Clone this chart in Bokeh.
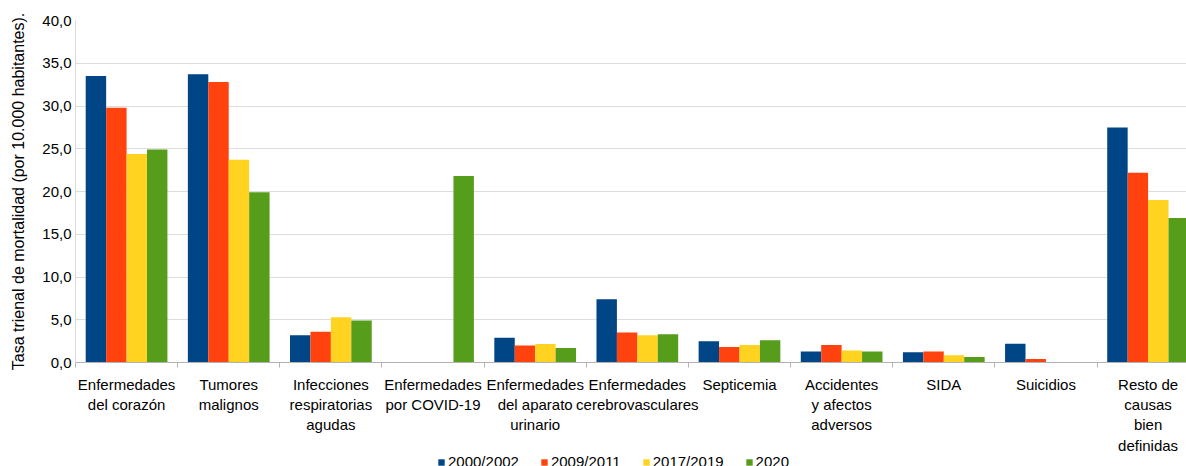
from bokeh.plotting import figure
from bokeh.layouts import column
from bokeh.models import Range1d, FixedTicker, Legend, LegendItem, ColumnDataSource
from bokeh.embed import file_html
from bokeh.resources import INLINE

categories = [
    "Enfermedades\ndel corazón",
    "Tumores\nmalignos",
    "Infecciones\nrespiratorias\nagudas",
    "Enfermedades\npor COVID-19",
    "Enfermedades\ndel aparato\nurinario",
    "Enfermedades\ncerebrovasculares",
    "Septicemia",
    "Accidentes\ny afectos\nadversos",
    "SIDA",
    "Suicidios",
    "Resto de\ncausas\nbien\ndefinidas",
]
series_names = ["2000/2002", "2009/2011", "2017/2019", "2020"]
s2000 = [33.5, 33.7, 3.2, 0.0, 2.9, 7.4, 2.5, 1.3, 1.2, 2.2, 27.5]
s2009 = [29.8, 32.8, 3.6, 0.0, 2.0, 3.5, 1.8, 2.05, 1.3, 0.4, 22.2]
s2017 = [24.4, 23.7, 5.3, 0.0, 2.15, 3.2, 2.05, 1.4, 0.85, 0.0, 19.0]
s2020 = [24.9, 19.9, 4.9, 21.8, 1.7, 3.3, 2.6, 1.3, 0.65, 0.0, 16.9]
y_ticks = [0, 5, 10, 15, 20, 25, 30, 35, 40]
y_tick_labels = ["0,0", "5,0", "10,0", "15,0", "20,0", "25,0", "30,0", "35,0", "40,0"]

colors = ["#004586", "#ff420e", "#ffd320", "#579d1c"]
FONT = "Liberation Sans"

n = len(categories)
centers = [i + 0.5 for i in range(n)]
bounds = list(range(n + 1))

p = figure(width=1186, height=456, output_backend="svg", toolbar_location=None,
           x_range=Range1d(0, 10.876), y_range=Range1d(0, 40),
           min_border_left=75, min_border_right=0, min_border_top=20, min_border_bottom=94)
p.outline_line_color = None
p.background_fill_color = "white"
p.border_fill_color = "white"

offsets = [-0.3, -0.1, 0.1, 0.3]
for vals, off, col in zip([s2000, s2009, s2017, s2020], offsets, colors):
    src = ColumnDataSource(dict(x=[c + off for c in centers], top=vals))
    p.vbar(x="x", top="top", width=0.2, source=src, fill_color=col, line_color=None)

# x axis
p.xaxis.ticker = FixedTicker(ticks=centers, minor_ticks=bounds)
p.xaxis.major_label_overrides = {c: lab for c, lab in zip(centers, categories)}
p.xaxis.major_tick_line_color = None
p.xaxis.major_tick_out = 0
p.xaxis.major_tick_in = 0
p.xaxis.minor_tick_out = 5
p.xaxis.minor_tick_in = 0
p.xaxis.minor_tick_line_color = "#b3b3b3"
p.xaxis.axis_line_color = "#b3b3b3"
p.xaxis.major_label_text_font = FONT
p.xaxis.major_label_text_font_size = "15px"
p.xaxis.major_label_text_color = "black"
p.xaxis.major_label_text_line_height = 1.2
p.xaxis.major_label_standoff = 8
p.xgrid.grid_line_color = None

# y axis
p.yaxis.ticker = FixedTicker(ticks=y_ticks)
p.yaxis.major_label_overrides = {t: lab for t, lab in zip(y_ticks, y_tick_labels)}
p.yaxis.major_tick_line_color = None
p.yaxis.major_tick_out = 0
p.yaxis.major_tick_in = 0
p.yaxis.minor_tick_line_color = None
p.yaxis.axis_line_color = "#d9d9d9"
p.yaxis.major_label_text_font = FONT
p.yaxis.major_label_text_font_size = "15px"
p.yaxis.major_label_text_color = "black"
p.yaxis.major_label_standoff = 4
p.yaxis.axis_label = "Tasa trienal de mortalidad (por 10.000 habitantes)."
p.yaxis.axis_label_text_font = FONT
p.yaxis.axis_label_text_font_size = "16px"
p.yaxis.axis_label_text_font_style = "normal"
p.yaxis.axis_label_text_color = "black"
p.yaxis.axis_label_standoff = 12
p.ygrid.grid_line_color = "#dddddd"

# legend strip below the chart
lg = figure(width=1186, height=10, output_backend="svg", toolbar_location=None,
            x_axis_location=None, y_axis_location=None,
            x_range=Range1d(0, 1), y_range=Range1d(0, 1),
            min_border_left=0, min_border_right=0, min_border_top=0, min_border_bottom=0)
lg.outline_line_color = None
lg.grid.grid_line_color = None
lg_renderers = [lg.vbar(x=[5], top=[0], width=0.2, fill_color=col, line_color=None) for col in colors]

legend = Legend(items=[LegendItem(label=nm, renderers=[r]) for nm, r in zip(series_names, lg_renderers)],
                orientation="horizontal", location=(362, -4),
                glyph_width=8, glyph_height=8, label_standoff=3, spacing=21,
                padding=0, margin=0, border_line_color=None, background_fill_alpha=0,
                label_text_font=FONT, label_text_font_size="15px", label_text_color="black",
                label_height=14, label_width=0)
lg.add_layout(legend, "center")

open("out.html", "w").write(file_html(column(p, lg, spacing=0), INLINE))
